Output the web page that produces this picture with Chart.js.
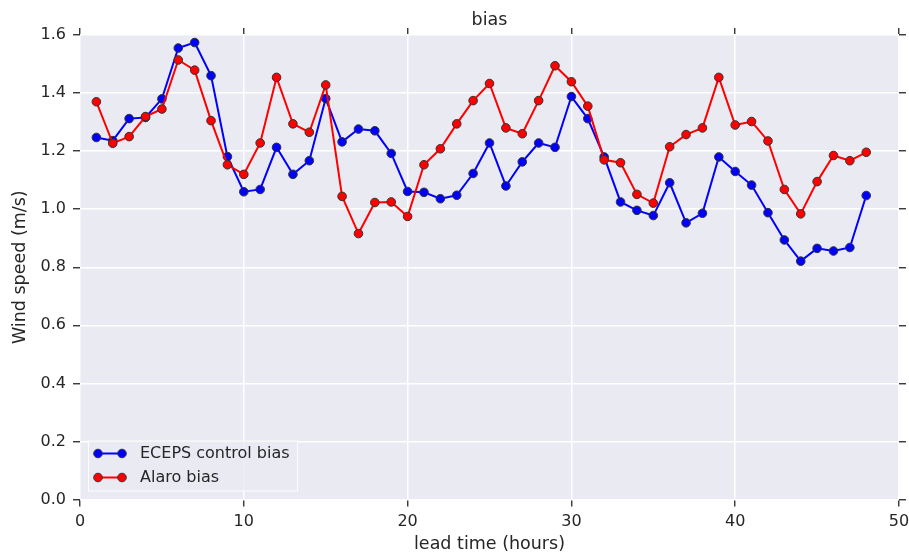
<!DOCTYPE html>
<html>
<head>
<meta charset="utf-8">
<script src="https://cdn.jsdelivr.net/npm/chart.js@4/dist/chart.umd.min.js"></script>
<style>
  body { margin: 0; background: #fff; }
  canvas { display: block; }
</style>
</head>
<body>
<canvas id="bias-chart" width="909" height="555"></canvas>
<script>
// lead time (hours)
var leadTimes = [];
for (var h = 1; h <= 48; h++) leadTimes.push(h);

var ecepsBias = [
  1.247, 1.236, 1.312, 1.316, 1.380, 1.555, 1.574, 1.460, 1.181, 1.060,
  1.068, 1.213, 1.120, 1.167, 1.381, 1.232, 1.276, 1.270, 1.192, 1.061,
  1.058, 1.036, 1.048, 1.123, 1.228, 1.080, 1.163, 1.228, 1.213, 1.388,
  1.312, 1.180, 1.025, 0.996, 0.978, 1.091, 0.953, 0.986, 1.180, 1.130,
  1.083, 0.988, 0.894, 0.821, 0.865, 0.856, 0.868, 1.047
];

var alaroBias = [
  1.370, 1.227, 1.250, 1.319, 1.345, 1.514, 1.479, 1.305, 1.153, 1.120,
  1.228, 1.454, 1.294, 1.265, 1.428, 1.044, 0.916, 1.023, 1.025, 0.975,
  1.153, 1.208, 1.294, 1.374, 1.433, 1.280, 1.260, 1.374, 1.494, 1.439,
  1.355, 1.170, 1.160, 1.051, 1.021, 1.215, 1.257, 1.280, 1.454, 1.290,
  1.302, 1.235, 1.068, 0.984, 1.095, 1.185, 1.167, 1.196
];

var xTicks = [0, 10, 20, 30, 40, 50];
var yTicks = [0.0, 0.2, 0.4, 0.6, 0.8, 1.0, 1.2, 1.4, 1.6];

var seriesNames = ['ECEPS control bias', 'Alaro bias'];
var seriesColors = ['#0000ff', '#ff0000'];

var txt = '#262626';
var fontFamily = '"DejaVu Sans", sans-serif';

function toPoints(vals) {
  return vals.map(function (v, i) { return { x: leadTimes[i], y: v }; });
}

// gray plot background (seaborn look)
var bgPlugin = {
  id: 'plotBg',
  beforeDraw: function (chart) {
    var a = chart.chartArea, ctx = chart.ctx;
    ctx.save();
    ctx.fillStyle = '#eaeaf2';
    ctx.fillRect(a.left, a.top, a.right - a.left, a.bottom - a.top);
    ctx.restore();
  }
};

// legend box in lower left corner of the axes
var legendPlugin = {
  id: 'innerLegend',
  afterDatasetsDraw: function (chart) {
    var a = chart.chartArea, ctx = chart.ctx;
    var x0 = a.left + 8, y0 = a.bottom - 59, w = 210, hgt = 51;
    ctx.save();
    ctx.fillStyle = 'rgba(234,234,242,0.8)';
    ctx.strokeStyle = 'rgba(255,255,255,0.9)';
    ctx.lineWidth = 1;
    ctx.fillRect(x0, y0, w, hgt);
    ctx.strokeRect(x0 + 0.5, y0 + 0.5, w - 1, hgt - 1);
    ctx.font = '16px ' + fontFamily;
    ctx.textBaseline = 'middle';
    for (var i = 0; i < seriesNames.length; i++) {
      var yy = y0 + 13 + i * 24;
      ctx.strokeStyle = seriesColors[i];
      ctx.lineWidth = 2;
      ctx.beginPath();
      ctx.moveTo(x0 + 10, yy);
      ctx.lineTo(x0 + 34, yy);
      ctx.stroke();
      [x0 + 10, x0 + 34].forEach(function (px) {
        ctx.beginPath();
        ctx.arc(px, yy, 4.3, 0, Math.PI * 2);
        ctx.fillStyle = seriesColors[i];
        ctx.fill();
        ctx.strokeStyle = '#333333';
        ctx.lineWidth = 1;
        ctx.stroke();
      });
      ctx.fillStyle = txt;
      ctx.fillText(seriesNames[i], x0 + 52, yy);
    }
    ctx.restore();
  }
};

function makeDataset(i, vals, order) {
  return {
    label: seriesNames[i],
    data: toPoints(vals),
    borderColor: seriesColors[i],
    backgroundColor: seriesColors[i],
    pointBackgroundColor: seriesColors[i],
    pointBorderColor: '#333333',
    pointBorderWidth: 1,
    pointRadius: 4.3,
    borderWidth: 2,
    tension: 0,
    order: order
  };
}

var gridBase = {
  color: '#ffffff',
  lineWidth: 1.5,
  tickColor: txt,
  tickLength: 7,
  tickWidth: 1.3
};

function noPad(s) {
  s.paddingLeft = 0; s.paddingRight = 0;
  s.paddingTop = 0; s.paddingBottom = 0;
}

var titleFont = { size: 17.5, family: fontFamily };
var tickFont = { size: 16, family: fontFamily };

var config = {
  type: 'line',
  data: {
    datasets: [
      makeDataset(0, ecepsBias, 2),
      makeDataset(1, alaroBias, 1)
    ]
  },
  options: {
    responsive: false,
    animation: false,
    layout: { padding: 0 },
    plugins: {
      legend: { display: false },
      tooltip: { enabled: false },
      title: { display: false }
    },
    scales: {
      x: {
        type: 'linear',
        position: 'bottom',
        min: 0, max: 50,
        afterBuildTicks: function (s) { s.ticks = xTicks.map(function (v) { return { value: v }; }); },
        grid: Object.assign({}, gridBase),
        border: { display: false },
        ticks: { color: txt, font: tickFont, padding: 6, maxRotation: 0 },
        title: { display: true, text: 'lead time (hours)', color: txt, font: titleFont, padding: 0 },
        afterFit: function (s) { s.height = 55.5; noPad(s); }
      },
      x2: {
        type: 'linear',
        position: 'top',
        min: 0, max: 50,
        afterBuildTicks: function (s) { s.ticks = xTicks.map(function (v) { return { value: v }; }); },
        grid: Object.assign({}, gridBase, { drawOnChartArea: false }),
        border: { display: false },
        ticks: { display: false },
        title: { display: true, text: 'bias', color: txt, font: titleFont, padding: { top: 10, bottom: 0 } },
        afterFit: function (s) { s.height = 35; noPad(s); }
      },
      y: {
        type: 'linear',
        position: 'left',
        min: 0, max: 1.6,
        afterBuildTicks: function (s) { s.ticks = yTicks.map(function (v) { return { value: v }; }); },
        grid: Object.assign({}, gridBase),
        border: { display: false },
        ticks: {
          color: txt, font: tickFont, padding: 7,
          callback: function (v) { return Number(v).toFixed(1); }
        },
        title: { display: true, text: 'Wind speed (m/s)', color: txt, font: titleFont, padding: { top: 10, bottom: 0 } },
        afterFit: function (s) { s.width = 80; noPad(s); }
      },
      y2: {
        type: 'linear',
        position: 'right',
        min: 0, max: 1.6,
        afterBuildTicks: function (s) { s.ticks = yTicks.map(function (v) { return { value: v }; }); },
        grid: Object.assign({}, gridBase, { drawOnChartArea: false }),
        border: { display: false },
        ticks: { display: false },
        afterFit: function (s) { s.width = 10; noPad(s); }
      }
    }
  },
  plugins: [bgPlugin, legendPlugin]
};

var ctx = document.getElementById('bias-chart').getContext('2d');
var biasChart = new Chart(ctx, config);
</script>
</body>
</html>
